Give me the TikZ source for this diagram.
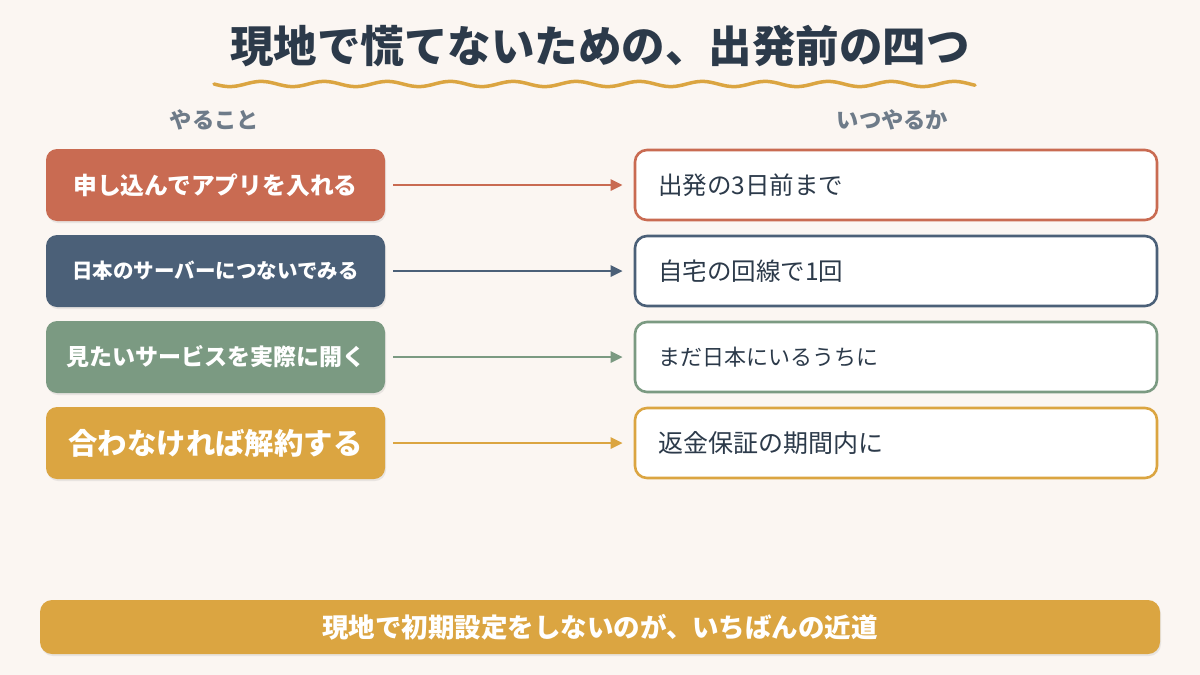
\documentclass[tikz,border=0pt]{standalone}
\usepackage{fontspec}
\setmainfont{Noto Sans CJK JP}
\usetikzlibrary{arrows.meta,shadows}
\definecolor{bg}{HTML}{FBF6F2}
\definecolor{cA}{HTML}{C96B52}
\definecolor{cB}{HTML}{4B6078}
\definecolor{cC}{HTML}{7B9A82}
\definecolor{cD}{HTML}{DBA541}
\definecolor{ttl}{HTML}{2C3A4A}
\definecolor{lbl}{HTML}{6E7B89}
\tikzset{
  lbox/.style={rounded corners=11pt, minimum width=339pt, minimum height=72pt, inner sep=0pt,
    text=white, font=\bfseries, drop shadow={opacity=0.15, shadow xshift=1pt, shadow yshift=-2pt}},
  rbox/.style={rounded corners=12pt, fill=white, line width=2.6pt, minimum height=70pt,
    text width=476pt, inner xsep=23pt, inner ysep=0pt, align=left, text=ttl,
    font=\fontsize{23}{28}\selectfont},
  arr/.style={line width=2.6pt, -{Triangle[length=12pt,width=11pt]}, shorten <=8pt, shorten >=11pt},
  colhead/.style={text=lbl, font=\fontsize{22.3}{26}\selectfont\bfseries},
}
\begin{document}
\begin{tikzpicture}[x=1pt,y=-1pt]
\fill[bg] (0,0) rectangle (1200,675);
\useasboundingbox (0,0) rectangle (1200,675);
\node[text=ttl, font=\fontsize{43.5}{50}\selectfont\bfseries] (title) at (600,46) {現地で慌てないための、出発前の四つ};
\draw[cD, line width=3.5pt, line cap=round] plot[domain=214:975, samples=240] (\x, {84+2.6*sin((\x-214)/63*360)});
\node[colhead] (h1) at (214.5,120) {やること};
\node[colhead] (h2) at (892.5,120) {いつやるか};

\node[lbox, fill=cA, font=\fontsize{23.8}{28}\selectfont\bfseries] (a1) at (215.5,185) {申し込んでアプリを入れる};
\node[lbox, fill=cB, font=\fontsize{20.5}{24}\selectfont\bfseries] (a2) at (215.5,271) {日本のサーバーにつないでみる};
\node[lbox, fill=cC, font=\fontsize{23}{27}\selectfont\bfseries] (a3) at (215.5,357) {見たいサービスを実際に開く};
\node[lbox, fill=cD, font=\fontsize{29.4}{34}\selectfont\bfseries] (a4) at (215.5,443) {合わなければ解約する};

\node[rbox, draw=cA, font=\fontsize{24.5}{28}\selectfont] (b1) at (896,185) {出発の3日前まで};
\node[rbox, draw=cB, font=\fontsize{24.5}{28}\selectfont] (b2) at (896,271) {自宅の回線で1回};
\node[rbox, draw=cC, font=\fontsize{22}{28}\selectfont] (b3) at (896,357) {まだ日本にいるうちに};
\node[rbox, draw=cD, font=\fontsize{25}{28}\selectfont] (b4) at (896,443) {返金保証の期間内に};

\draw[arr, cA] (a1.east) -- (b1.west);
\draw[arr, cB] (a2.east) -- (b2.west);
\draw[arr, cC] (a3.east) -- (b3.west);
\draw[arr, cD] (a4.east) -- (b4.west);

\node[fill=cD, rounded corners=12pt, minimum width=1120pt, minimum height=54pt, inner sep=0pt,
  text=white, font=\fontsize{26.5}{30}\selectfont\bfseries,
  drop shadow={opacity=0.15, shadow xshift=1pt, shadow yshift=-2pt}] (bar) at (600,627) {現地で初期設定をしないのが、いちばんの近道};
\end{tikzpicture}
\end{document}
